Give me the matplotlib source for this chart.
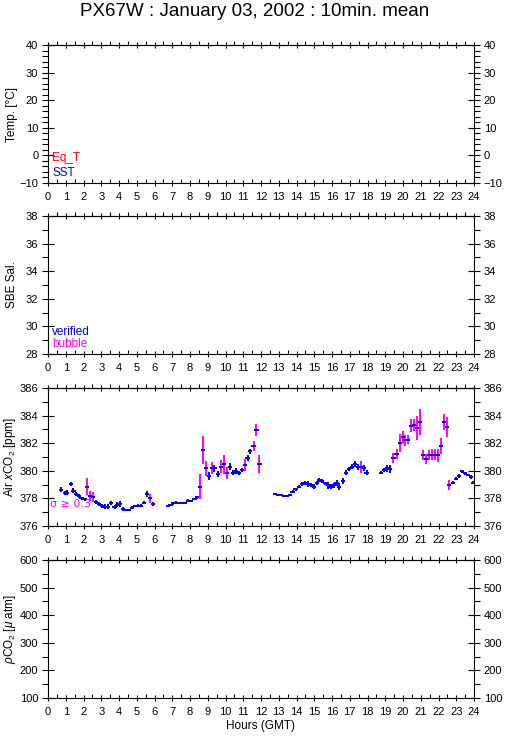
import matplotlib
matplotlib.use('Agg')
import matplotlib.pyplot as plt
from matplotlib.ticker import MultipleLocator
import numpy as np

plt.rcParams['font.family'] = ['Liberation Sans', 'DejaVu Sans']
plt.rcParams['mathtext.fontset'] = 'custom'
plt.rcParams['mathtext.rm'] = 'Liberation Sans'
plt.rcParams['mathtext.it'] = 'Liberation Sans:italic'

title = "PX67W : January 03, 2002 : 10min. mean"
xlabel = "Hours (GMT)"

# Air xCO2 10-min means (hours GMT, ppm) and standard deviation
hours = [0.75, 0.94, 1.09, 1.28, 1.43, 1.59, 1.74, 1.89, 2.06, 2.21, 2.38, 2.53, 2.72, 2.87, 3.06, 3.21,
         3.38, 3.56, 3.75, 3.90, 4.05, 4.22, 4.41, 4.56, 4.75, 4.92, 5.08, 5.22, 5.40, 5.57, 5.74, 5.93,
         6.75, 6.90, 7.05, 7.22, 7.41, 7.56, 7.73, 7.90, 8.07, 8.26, 8.41, 8.57, 8.74, 8.89, 9.08, 9.23,
         9.38, 9.57, 9.76, 9.91, 10.08, 10.24, 10.41, 10.58, 10.75, 10.92, 11.09, 11.24, 11.39, 11.58, 11.74, 11.91,
         12.79, 12.94, 13.11, 13.30, 13.45, 13.63, 13.78, 13.95, 14.12, 14.29, 14.46, 14.63, 14.80, 14.97, 15.14, 15.28,
         15.45, 15.60, 15.77, 15.92, 16.09, 16.26, 16.41, 16.64, 16.79, 16.96, 17.11, 17.30, 17.45, 17.63, 17.78, 17.95,
         18.76, 18.93, 19.10, 19.27, 19.46, 19.64, 19.83, 19.98, 20.11, 20.26, 20.43, 20.60, 20.79, 20.96, 21.14, 21.29,
         21.46, 21.61, 21.78, 21.97, 22.12, 22.29, 22.46,
         22.61, 22.80, 22.99, 23.16, 23.31, 23.48, 23.65, 23.82, 23.97]
xco2 = [378.62, 378.42, 378.42, 379.05, 378.57, 378.30, 378.18, 378.00, 377.94, 378.86, 378.18, 378.13, 377.77, 377.60, 377.45, 377.40,
        377.40, 377.65, 377.40, 377.53, 377.60, 377.23, 377.16, 377.16, 377.33, 377.45, 377.48, 377.48, 377.70, 378.32, 378.00, 377.60,
        377.45, 377.53, 377.65, 377.70, 377.65, 377.65, 377.65, 377.84, 377.84, 377.96, 378.08, 378.86, 381.52, 380.19, 379.63, 380.19,
        380.19, 379.78, 380.31, 380.48, 379.83, 380.31, 379.87, 380.00, 379.83, 380.07, 380.43, 380.92, 381.40, 381.81, 382.97, 380.48,
        378.30, 378.25, 378.22, 378.18, 378.18, 378.25, 378.49, 378.66, 378.86, 379.03, 379.10, 379.03, 378.98, 378.86, 379.10, 379.34,
        379.29, 379.10, 378.95, 378.86, 378.95, 379.10, 378.86, 379.27, 379.87, 380.12, 380.31, 380.50, 380.26, 380.26, 380.19, 379.87,
        379.87, 380.07, 380.19, 380.12, 380.92, 381.21, 382.00, 382.44, 382.20, 382.25, 383.26, 383.31, 383.09, 383.55, 381.16, 380.84,
        381.16, 381.16, 381.16, 381.11, 381.81, 383.55, 383.17,
        378.95, 379.15, 379.44, 379.63, 379.95, 379.83, 379.70, 379.58, 379.15]
sigma = [0.17, 0.15, 0.18, 0.16, 0.20, 0.14, 0.12, 0.12, 0.10, 0.61, 0.36, 0.36, 0.14, 0.12, 0.12, 0.18,
         0.16, 0.14, 0.15, 0.18, 0.20, 0.12, 0.06, 0.06, 0.10, 0.10, 0.08, 0.08, 0.14, 0.20, 0.31, 0.15,
         0.06, 0.08, 0.12, 0.08, 0.06, 0.06, 0.06, 0.10, 0.08, 0.10, 0.10, 0.88, 1.00, 0.54, 0.28, 0.42,
         0.25, 0.20, 0.46, 0.69, 0.42, 0.25, 0.20, 0.20, 0.14, 0.14, 0.41, 0.20, 0.16, 0.36, 0.44, 0.64,
         0.05, 0.05, 0.05, 0.05, 0.05, 0.10, 0.12, 0.12, 0.12, 0.14, 0.14, 0.20, 0.16, 0.20, 0.16, 0.16,
         0.14, 0.12, 0.25, 0.20, 0.20, 0.20, 0.25, 0.20, 0.16, 0.14, 0.16, 0.20, 0.20, 0.42, 0.20, 0.16,
         0.12, 0.15, 0.25, 0.28, 0.36, 0.39, 0.64, 0.42, 0.42, 0.33, 0.46, 0.42, 0.85, 0.93, 0.36, 0.36,
         0.36, 0.39, 0.39, 0.48, 0.60, 0.58, 0.73,
         0.36, 0.12, 0.10, 0.12, 0.10, 0.10, 0.10, 0.14, 0.12]
sigma_limit = 0.3

panel_labels = ['Temp. [°C]', 'SBE Sal.', r'Air $x$CO$_2$ [ppm]', r'$\rho$CO$_2$ [$\mu$ atm]']
panel_ylims = [(-10, 40), (28, 38), (376, 386), (100, 600)]
panel_major = [10, 2, 2, 100]
panel_minor = [2, 1, 1, 50]

BLUE = '#0000ff'
RED = '#ff0000'
MAG = '#ff00ff'

fig = plt.figure(figsize=(5.09, 7.39), dpi=100)
left, width, height = 48 / 509, 426 / 509, 138 / 739
bottoms = [1 - 183 / 739, 1 - 354 / 739, 1 - 526 / 739, 1 - 698 / 739]

axes = []
for i in range(4):
    ax = fig.add_axes([left, bottoms[i], width, height])
    ax.set_xlim(0, 24)
    ax.set_ylim(*panel_ylims[i])
    ax.xaxis.set_major_locator(MultipleLocator(1))
    ax.xaxis.set_minor_locator(MultipleLocator(0.5))
    ax.yaxis.set_major_locator(MultipleLocator(panel_major[i]))
    ax.yaxis.set_minor_locator(MultipleLocator(panel_minor[i]))
    for s in ax.spines.values():
        s.set_linewidth(0.8)
    ax.tick_params(axis='x', which='major', direction='inout', length=5, width=0.8,
                   labelsize=8, pad=4, top=False)
    ax.tick_params(axis='x', which='minor', direction='in', length=3, width=0.8, top=False)
    ax.tick_params(axis='y', which='major', direction='inout', length=8, width=0.8,
                   labelsize=8, left=True, right=True, labelleft=True, labelright=True, pad=3)
    ax.tick_params(axis='y', which='minor', direction='out', length=4, width=0.8,
                   left=True, right=True)
    sec = ax.secondary_xaxis('top')
    sec.xaxis.set_major_locator(MultipleLocator(1))
    sec.xaxis.set_minor_locator(MultipleLocator(0.5))
    sec.tick_params(axis='x', which='major', direction='inout', length=5, width=0.8, labeltop=False)
    sec.tick_params(axis='x', which='minor', direction='out', length=3, width=0.8)
    sec.spines['top'].set_linewidth(0.8)
    ax.set_ylabel(panel_labels[i], fontsize=8.5)
    ax.yaxis.set_label_coords(-30 / 426, 0.5)
    axes.append(ax)

axes[-1].set_xlabel(xlabel, fontsize=8.5, labelpad=2)
fig.text(0.5, 1 - 12 / 739, title, ha='center', va='center', fontsize=13.5)

# legends / annotations
axes[0].text(0.01, 0.18, 'Eq_T', color=RED, fontsize=8.5, transform=axes[0].transAxes, va='center')
axes[0].text(0.01, 0.075, 'SST', color=BLUE, fontsize=8.5, transform=axes[0].transAxes, va='center')
axes[1].text(0.01, 0.16, 'verified', color=BLUE, fontsize=8.5, transform=axes[1].transAxes, va='center')
axes[1].text(0.01, 0.07, 'bubble', color=MAG, fontsize=8.5, transform=axes[1].transAxes, va='center')
axes[2].text(0.005, 0.16, r'σ ≥ 0.3', color=MAG, fontsize=8, transform=axes[2].transAxes,
             va='center', family=['DejaVu Sans'])

# xCO2 data with error bars
h = np.array(hours)
v = np.array(xco2)
s = np.array(sigma)
vcols = [MAG if si >= sigma_limit else BLUE for si in s]
ax = axes[2]
ax.vlines(h, v - s, v + s, colors=vcols, linewidth=1.4, zorder=3)
ax.hlines(v, h - 0.12, h + 0.12, colors=BLUE, linewidth=1.4, zorder=4)

fig.savefig('out.png', dpi=100)
